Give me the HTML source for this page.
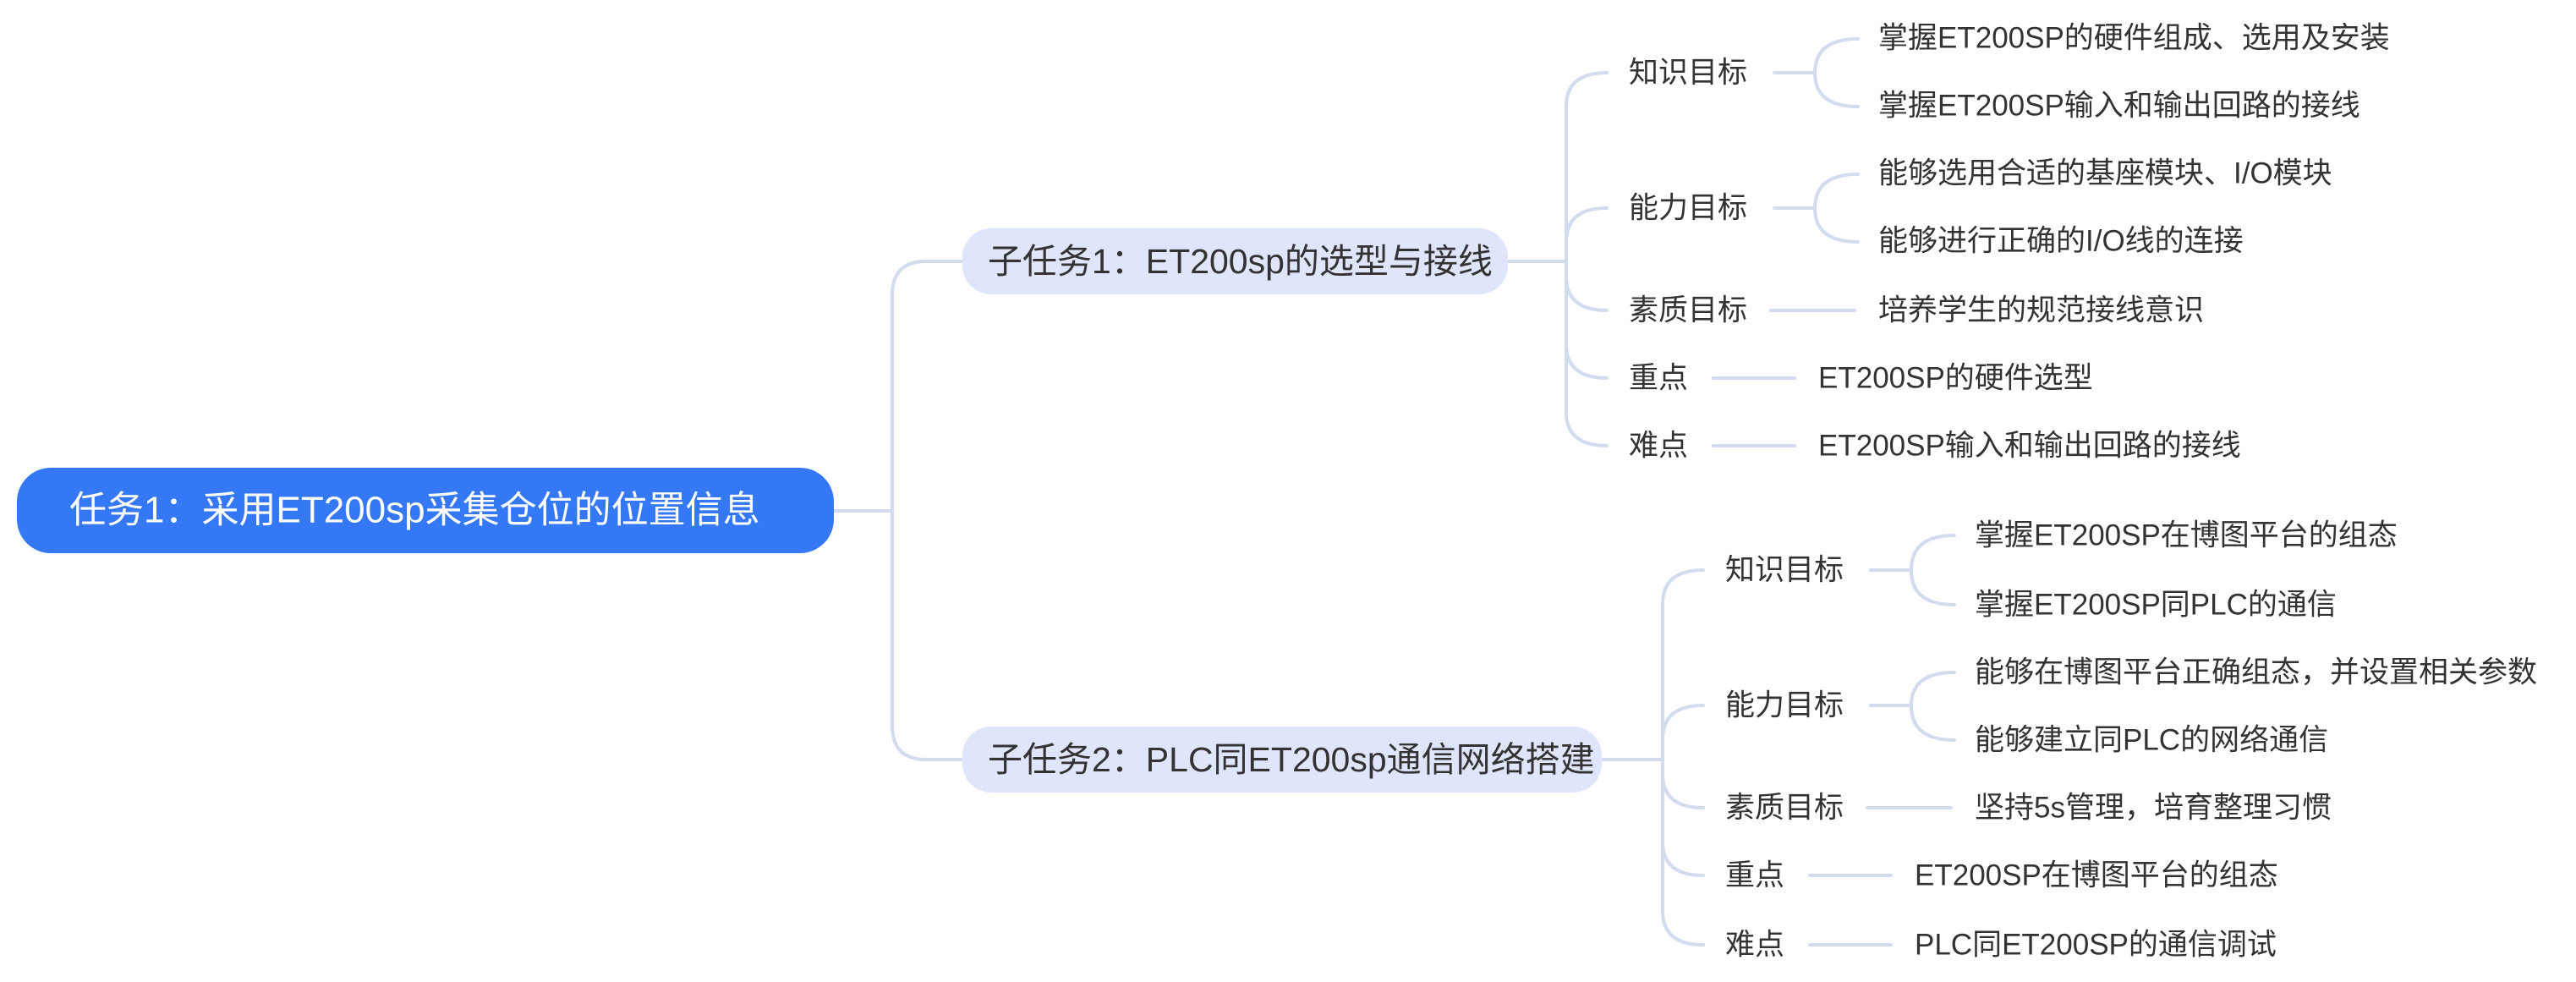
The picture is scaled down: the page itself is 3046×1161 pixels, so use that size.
<!DOCTYPE html>
<html><head><meta charset="utf-8"><style>
html,body{margin:0;padding:0;background:#fff;}
svg{display:block;}
text{font-family:"Liberation Sans","Noto Sans CJK SC",sans-serif;dominant-baseline:central;}
.l{font-size:35px;fill:#333;}
</style></head><body>
<svg width="3046" height="1161" viewBox="0 0 3046 1161">
<g fill="none" stroke="#d3dbef" stroke-width="4" stroke-linecap="round">
<path d="M986 604 H1055"/>
<path d="M1055 604 V349 Q1055 309 1095 309 H1138"/>
<path d="M1055 604 V858 Q1055 898 1095 898 H1138"/>
<path d="M1783 309 H1852"/>
<path d="M1852 309 V126 Q1852 86 1900 86"/>
<path d="M1852 309 V286 Q1852 246 1900 246"/>
<path d="M1852 309 V327 Q1852 367 1900 367"/>
<path d="M1852 309 V407 Q1852 447 1900 447"/>
<path d="M1852 309 V487 Q1852 527 1900 527"/>
<path d="M2098 86 H2146"/>
<path d="M2146 86 Q2146 46 2197 46"/>
<path d="M2146 86 Q2146 126 2197 126"/>
<path d="M2098 246 H2146"/>
<path d="M2146 246 Q2146 206 2197 206"/>
<path d="M2146 246 Q2146 286 2197 286"/>
<path d="M2094 367 H2193"/>
<path d="M2026 447 H2122"/>
<path d="M2026 527 H2122"/>
<path d="M1894 898 H1966"/>
<path d="M1966 898 V714 Q1966 674 2014 674"/>
<path d="M1966 898 V874 Q1966 834 2014 834"/>
<path d="M1966 898 V915 Q1966 955 2014 955"/>
<path d="M1966 898 V995 Q1966 1035 2014 1035"/>
<path d="M1966 898 V1077 Q1966 1117 2014 1117"/>
<path d="M2212 674 H2260"/>
<path d="M2260 674 Q2260 633 2311 633"/>
<path d="M2260 674 Q2260 715 2311 715"/>
<path d="M2212 834 H2260"/>
<path d="M2260 834 Q2260 795 2311 795"/>
<path d="M2260 834 Q2260 875 2311 875"/>
<path d="M2208 955 H2307"/>
<path d="M2140 1035 H2236"/>
<path d="M2140 1117 H2236"/>
</g>
<rect x="20" y="553" width="966" height="101" rx="40" fill="#3478f6"/>
<text x="82" y="603" style="font-size:44px;fill:#fff;">任务1：采用ET200sp采集仓位的位置信息</text>
<rect x="1138" y="270" width="645" height="78" rx="34" fill="#dfe6fc"/>
<text x="1168" y="309" style="font-size:41px;fill:#333;">子任务1：ET200sp的选型与接线</text>
<rect x="1138" y="859" width="756" height="78" rx="34" fill="#dfe6fc"/>
<text x="1168" y="898" style="font-size:41px;fill:#333;">子任务2：PLC同ET200sp通信网络搭建</text>

<text class="l" x="1926" y="86">知识目标</text>
<text class="l" x="1926" y="246">能力目标</text>
<text class="l" x="1926" y="367">素质目标</text>
<text class="l" x="1926" y="447">重点</text>
<text class="l" x="1926" y="527">难点</text>
<text class="l" x="2221" y="45">掌握ET200SP的硬件组成、选用及安装</text>
<text class="l" x="2221" y="125">掌握ET200SP输入和输出回路的接线</text>
<text class="l" x="2221" y="205">能够选用合适的基座模块、I/O模块</text>
<text class="l" x="2221" y="285">能够进行正确的I/O线的连接</text>
<text class="l" x="2221" y="367">培养学生的规范接线意识</text>
<text class="l" x="2150" y="447">ET200SP的硬件选型</text>
<text class="l" x="2150" y="527">ET200SP输入和输出回路的接线</text>

<text class="l" x="2040" y="674">知识目标</text>
<text class="l" x="2040" y="834">能力目标</text>
<text class="l" x="2040" y="955">素质目标</text>
<text class="l" x="2040" y="1035">重点</text>
<text class="l" x="2040" y="1117">难点</text>
<text class="l" x="2335" y="633">掌握ET200SP在博图平台的组态</text>
<text class="l" x="2335" y="715">掌握ET200SP同PLC的通信</text>
<text class="l" x="2335" y="795">能够在博图平台正确组态，并设置相关参数</text>
<text class="l" x="2335" y="875">能够建立同PLC的网络通信</text>
<text class="l" x="2335" y="955">坚持5s管理，培育整理习惯</text>
<text class="l" x="2264" y="1035">ET200SP在博图平台的组态</text>
<text class="l" x="2264" y="1117">PLC同ET200SP的通信调试</text>
</svg>
</body></html>
